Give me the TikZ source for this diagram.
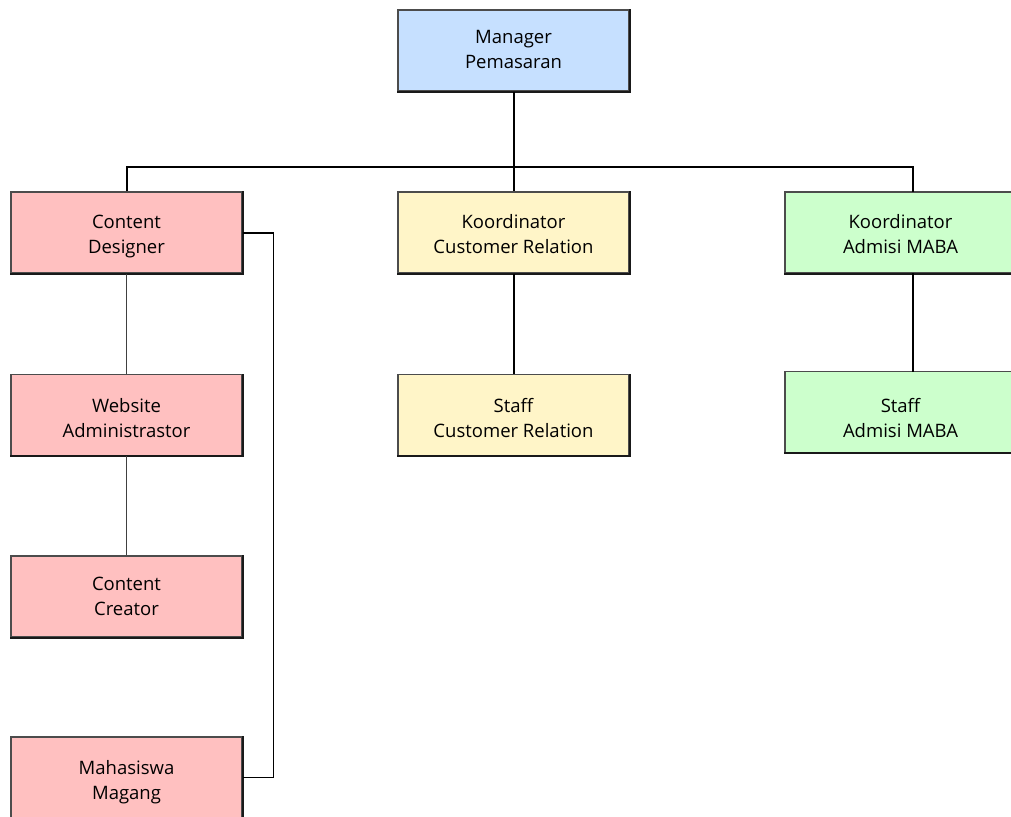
\documentclass[tikz,border=0pt]{standalone}
\usepackage{fontspec}
\setmainfont{Open Sans}
\definecolor{cblue}{RGB}{198,224,255}
\definecolor{cpink}{RGB}{255,192,192}
\definecolor{cyellow}{RGB}{255,245,200}
\definecolor{cgreen}{RGB}{204,255,204}
\newcommand\twolines[3][0pt]{\raisebox{#1}[\height][\depth]{\begin{tabular}{@{}c@{}}#2\\#3\end{tabular}}}
\begin{document}
\begin{tikzpicture}[x=1pt,y=-1pt,
  box/.style={draw=black!70, line width=1.1pt, minimum width=231pt, minimum height=81pt,
    inner sep=0pt, font=\fontsize{18.5}{25}\selectfont},
  boxedge/.style={draw=black!90, line width=2pt},
  link/.style={draw=black, line width=2pt},
  thinlink/.style={draw=black!75, line width=1.3pt}]
\useasboundingbox (0,0) rectangle (1011,816);
\node[box, fill=cblue]   (mgr)  at (513.5,50.5)  {\twolines[-1pt]{Manager}{Pemasaran}};
\node[box, fill=cpink]   (cd)   at (126.5,232.5) {\twolines[-3pt]{Content}{Designer}};
\node[box, fill=cyellow] (kcr)  at (513.5,232.5) {\twolines[-3pt]{Koordinator}{Customer Relation}};
\node[box, fill=cgreen]  (kadm) at (900.5,232.5) {\twolines[-3pt]{Koordinator}{Admisi MABA}};
\node[box, fill=cpink]   (web)  at (126.5,415)   {\twolines[-4.5pt]{Website}{Administrastor}};
\node[box, fill=cyellow] (scr)  at (513.5,415)   {\twolines[-4.5pt]{Staff}{Customer Relation}};
\node[box, fill=cgreen]  (sadm) at (900.5,412)   {\twolines[-7.5pt]{Staff}{Admisi MABA}};
\node[box, fill=cpink]   (cc)   at (126.5,596.5) {\twolines[-1.7pt]{Content}{Creator}};
\node[box, fill=cpink]   (mm)   at (126.5,777.5) {\twolines[-4pt]{Mahasiswa}{Magang}};
\foreach \n in {mgr,cd,kcr,kadm,web,scr,sadm,cc}
  \draw[boxedge] (\n.south west) -- (\n.south east) -- (\n.north east);
\draw[boxedge] (mm.south east) -- (mm.north east);
% extra connector points
\coordinate (bus) at (513.5,167);
\coordinate (admtop) at (912.5,192);
\coordinate (admbot) at (912.5,273);
\coordinate (sadmtop) at (912.5,371.5);
\coordinate (side) at (273.5,233);
% connectors
\draw[link] (mgr.south) -- (kcr.north);
\draw[link] (cd.north) |- (bus) -| (admtop);
\draw[link] (kcr.south) -- (scr.north);
\draw[link] (admbot) -- (sadmtop);
\draw[thinlink] (cd.south) -- (web.north);
\draw[thinlink] (web.south) -- (cc.north);
\draw[link, line width=1.6pt] (cd.east |- side) -| (mm.east -| side) -- (mm.east);
\end{tikzpicture}
\end{document}
